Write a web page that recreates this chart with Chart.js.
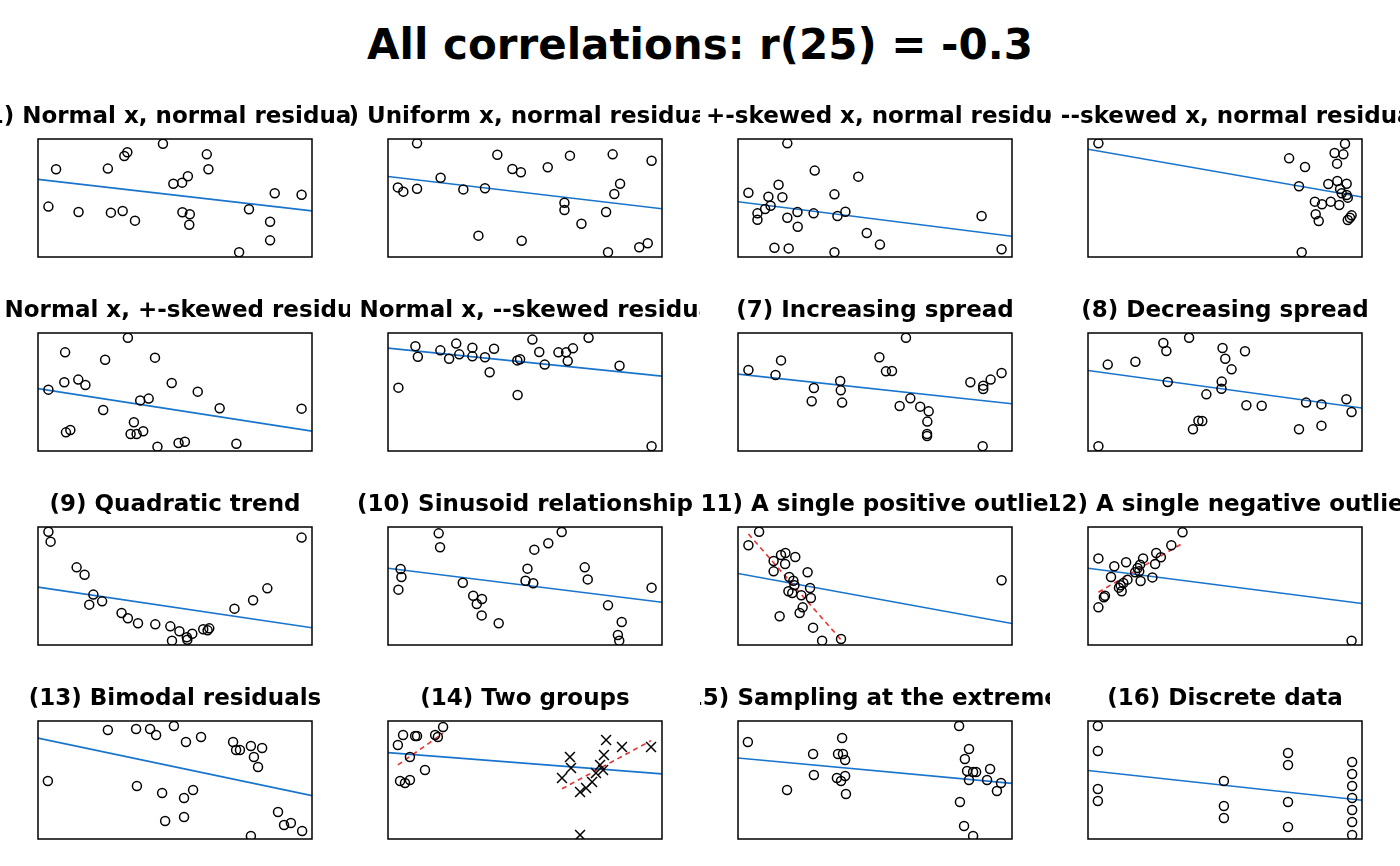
<!DOCTYPE html>
<html>
<head>
<meta charset="utf-8">
<script src="https://cdn.jsdelivr.net/npm/chart.js@4.4.1/dist/chart.umd.min.js"></script>
<style>
  body { margin: 0; background: #fff; width: 1400px; height: 866px; position: relative; overflow: hidden; }
  #main { position: absolute; left: 0; top: 20px; width: 1400px; text-align: center;
          font: bold 42px/50px "DejaVu Sans", sans-serif; color: #000; }
  canvas { position: absolute; }
</style>
</head>
<body>
<div id="main">All correlations: r(25) = -0.3</div>
<script>
// Panel titles, in reading order
const panelTitles = [
  "(1) Normal x, normal residuals", "(2) Uniform x, normal residuals",
  "(3) +-skewed x, normal residuals", "(4) --skewed x, normal residuals",
  "(5) Normal x, +-skewed residuals", "(6) Normal x, --skewed residuals",
  "(7) Increasing spread", "(8) Decreasing spread",
  "(9) Quadratic trend", "(10) Sinusoid relationship",
  "(11) A single positive outlier", "(12) A single negative outlier",
  "(13) Bimodal residuals", "(14) Two groups",
  "(15) Sampling at the extremes", "(16) Discrete data"
];

// Points, [x, y] on a 0-100 scale
const p1 = [[6.6,74.3],[25.5,74.9],[31.5,85.6],[32.6,88.7],[45.6,96.0],[61.6,87.0],[62.2,74.3],[49.4,62.1],[52.6,63.0],[54.7,68.4],[3.8,42.7],[14.8,38.1],[26.6,37.6],[30.9,39.0],[35.4,30.8],[52.7,37.9],[55.4,36.2],[55.2,27.4],[77.0,40.4],[86.4,54.0],[96.2,52.8],[84.7,29.9],[84.7,14.1],[73.4,4.0]];
const p2 = [[10.6,96.3],[39.9,86.7],[45.4,74.6],[48.5,71.8],[58.3,76.0],[66.4,85.9],[82.0,87.0],[96.2,81.6],[19.2,67.2],[3.6,59.0],[5.6,55.4],[10.6,57.9],[27.5,57.3],[35.4,58.2],[84.7,62.1],[82.6,53.4],[64.4,46.0],[64.4,39.8],[79.6,38.1],[70.6,28.2],[33.0,18.1],[48.8,13.8],[80.3,4.0],[91.7,8.2],[94.8,11.6]];
const p3 = [[18.0,96.3],[28.0,73.2],[43.9,68.1],[14.8,61.3],[3.8,54.5],[11.1,51.1],[16.2,50.6],[35.2,53.1],[11.9,43.5],[9.9,40.7],[7.1,37.0],[7.1,31.6],[21.7,38.1],[27.6,37.0],[18.0,33.3],[36.3,34.7],[39.2,38.4],[21.8,25.7],[47.0,20.3],[51.8,10.5],[13.3,7.9],[18.5,7.3],[35.2,4.0],[88.9,34.7],[96.2,6.5]];
const p4 = [[3.8,96.3],[73.4,83.6],[79.2,76.3],[77.0,59.9],[90.0,88.1],[93.2,87.0],[93.8,96.0],[90.9,79.1],[87.7,61.9],[91.0,64.4],[94.4,62.1],[92.0,57.6],[92.6,54.0],[94.4,52.5],[94.8,50.3],[82.8,46.9],[85.4,44.6],[88.6,46.9],[91.7,44.1],[83.1,36.2],[84.2,30.5],[94.8,31.4],[96.2,35.3],[95.6,33.3],[78.0,4.0]];
const p5 = [[32.8,96.0],[9.9,83.6],[24.5,77.4],[42.7,79.1],[9.6,58.2],[14.7,60.5],[17.3,55.9],[48.8,57.6],[58.3,50.3],[3.8,52.0],[37.3,42.9],[40.4,44.4],[23.8,34.7],[66.3,36.2],[96.2,35.9],[35.0,24.3],[10.2,15.8],[11.8,17.8],[33.8,14.4],[36.0,14.4],[38.4,16.7],[43.6,3.7],[51.3,6.8],[53.6,7.9],[72.4,6.2]];
const p6 = [[10.0,88.7],[10.9,79.9],[19.1,85.3],[24.9,91.0],[22.3,78.2],[26.0,81.9],[30.8,87.6],[30.8,80.2],[35.4,79.4],[38.7,86.7],[37.1,66.7],[52.7,94.4],[55.2,83.9],[47.2,76.8],[48.2,77.7],[57.2,73.2],[62.2,83.6],[65.0,83.6],[65.6,76.3],[67.5,87.0],[73.2,96.0],[84.5,72.3],[3.8,53.7],[47.3,47.5],[96.2,4.0]];
const p7 = [[3.8,68.6],[15.7,76.8],[13.7,64.4],[27.7,53.4],[26.9,42.1],[37.3,59.3],[37.5,51.4],[38.0,41.0],[51.6,79.4],[54.0,67.5],[56.2,67.8],[61.3,96.0],[59.0,38.1],[62.9,44.6],[66.5,37.6],[69.6,33.6],[69.1,24.9],[69.0,14.4],[69.0,12.7],[84.8,58.2],[89.5,55.4],[89.5,52.5],[92.2,60.5],[96.2,66.1],[89.3,4.0]];
const p8 = [[7.2,73.2],[17.3,75.7],[27.5,91.5],[28.6,84.7],[36.9,96.0],[49.1,87.3],[50.1,78.2],[52.4,69.2],[57.3,84.5],[29.1,58.5],[48.8,58.8],[48.7,52.8],[43.2,48.0],[57.8,38.7],[63.4,38.4],[79.6,41.0],[85.2,39.5],[94.3,43.8],[96.2,33.1],[40.3,25.7],[41.7,25.4],[38.3,18.4],[77.0,18.4],[85.2,21.5],[3.8,4.0]];
const p9 = [[3.8,96.0],[4.6,87.6],[14.1,65.8],[17.0,59.6],[20.2,42.7],[18.7,34.2],[23.4,37.0],[30.5,27.1],[32.8,22.6],[36.5,18.4],[42.8,17.5],[48.3,15.8],[51.6,11.6],[48.9,3.7],[54.3,6.5],[54.5,4.5],[56.3,9.6],[60.3,13.3],[61.9,12.4],[62.5,14.1],[71.7,30.8],[78.5,37.9],[83.7,48.0],[96.2,91.0]];
const p10 = [[18.5,94.6],[19.0,82.8],[4.6,64.4],[4.9,57.6],[3.8,46.9],[27.3,52.8],[31.1,41.8],[34.3,39.0],[32.4,34.7],[34.2,25.1],[40.4,18.4],[50.9,64.7],[50.2,54.5],[53.0,52.3],[53.4,80.8],[58.5,86.2],[63.4,95.8],[71.8,65.8],[72.9,55.6],[96.2,48.6],[80.3,33.6],[85.3,19.5],[83.9,8.5],[84.4,3.7]];
// last point of p11 / p12 is the outlier
const p11 = [[7.7,96.0],[3.8,84.5],[13.0,71.2],[15.7,76.3],[17.3,78.0],[17.2,68.6],[20.9,74.6],[13.0,62.4],[25.4,61.6],[18.7,57.6],[20.2,54.5],[20.6,50.6],[26.3,48.3],[18.4,45.5],[19.8,44.1],[23.1,42.1],[26.6,39.8],[23.6,31.9],[22.5,27.1],[15.2,24.3],[27.4,14.7],[30.7,3.7],[37.6,5.1],[96.2,54.8]];
const p12 = [[34.5,95.5],[30.4,84.5],[24.9,78.0],[26.6,74.3],[20.1,73.4],[13.9,70.1],[9.6,66.7],[3.8,73.4],[24.5,68.6],[19.0,68.1],[18.1,65.3],[18.7,62.4],[17.2,61.6],[8.4,57.6],[14.4,55.4],[12.9,52.5],[11.3,48.6],[12.3,45.5],[19.2,54.2],[23.5,57.3],[6.2,41.8],[5.8,40.4],[3.8,31.9],[11.9,50.6],[96.2,3.7]];
const p13 = [[3.6,49.2],[25.5,92.4],[35.8,93.2],[40.9,93.2],[43.1,88.1],[49.6,95.8],[54.0,82.2],[59.5,86.4],[71.2,82.2],[72.3,75.4],[73.7,75.4],[77.7,78.8],[81.8,77.1],[78.8,69.5],[80.3,61.0],[36.1,44.9],[45.3,39.0],[53.3,34.7],[56.6,41.5],[46.4,15.3],[53.3,18.6],[87.6,22.9],[89.8,11.9],[92.3,13.6],[96.4,6.8],[77.7,2.5]];
const p14a = [[3.6,79.7],[5.5,88.1],[9.9,87.3],[10.6,87.3],[8.0,69.5],[13.5,58.5],[4.4,49.2],[6.2,47.5],[8.0,50.0],[17.2,88.1],[18.2,86.4],[20.1,94.9]];
const p14b = [[63.5,51.7],[66.4,69.5],[66.8,60.2],[70.1,39.8],[72.3,43.2],[74.5,48.3],[75.9,55.9],[78.5,58.5],[77.4,62.7],[78.8,71.2],[79.6,83.9],[85.4,78.0],[96.0,78.0],[70.1,3.4]];
const p15 = [[3.6,82.2],[17.9,41.5],[27.4,72.0],[27.7,54.2],[36.5,72.0],[38.3,72.0],[39.1,66.9],[36.1,51.7],[37.6,49.2],[39.1,53.4],[38.0,85.6],[39.4,38.1],[80.7,95.8],[84.3,76.3],[82.8,67.8],[83.6,57.6],[85.8,56.8],[86.9,56.8],[84.3,50.0],[92.0,59.3],[90.9,50.0],[96.0,47.5],[94.5,40.7],[81.0,31.4],[82.5,11.0],[85.8,2.5]];
const p16 = [[3.6,95.8],[3.6,74.6],[3.6,42.4],[3.6,32.2],[49.6,49.2],[49.6,28.0],[49.6,17.8],[73.0,72.9],[73.0,62.7],[73.0,31.4],[73.0,10.2],[96.4,65.3],[96.4,55.1],[96.4,44.9],[96.4,34.7],[96.4,24.6],[96.4,14.4],[96.4,3.4]];

const BLUE = "#1874CD";
const RED = "#e8302f";

// least-squares line through pts, evaluated at x0 and x1
function fitLine(pts, x0, x1) {
  const n = pts.length;
  const mx = pts.reduce((s, p) => s + p[0], 0) / n;
  const my = pts.reduce((s, p) => s + p[1], 0) / n;
  let sxy = 0, sxx = 0;
  pts.forEach(p => { sxy += (p[0] - mx) * (p[1] - my); sxx += (p[0] - mx) ** 2; });
  const b = sxy / sxx, a = my - b * mx;
  return [{ x: x0, y: a + b * x0 }, { x: x1, y: a + b * x1 }];
}

const toXY = pts => pts.map(p => ({ x: p[0], y: p[1] }));

function scatterSet(pts, style) {
  return {
    type: "scatter", data: toXY(pts),
    pointStyle: style || "circle",
    pointRadius: style === "crossRot" ? 7 : 4.5,
    borderColor: "#000", backgroundColor: "rgba(0,0,0,0)",
    pointBorderWidth: 1.5, pointHoverRadius: 4.5
  };
}

function lineSet(data, color, dashed) {
  return {
    type: "line", data, borderColor: color, borderWidth: 1.6,
    borderDash: dashed ? [5, 4] : [], pointRadius: 0, fill: false, tension: 0
  };
}

// red dashed fit over the x range of a subset
function subsetFit(pts) {
  const xs = pts.map(p => p[0]);
  return lineSet(fitLine(pts, Math.min(...xs), Math.max(...xs)), RED, true);
}

// panel title + frame
const panelDeco = {
  id: "panelDeco",
  afterDatasetsDraw(chart) {
    const { ctx, chartArea: a } = chart;
    ctx.save();
    ctx.strokeStyle = "#000";
    ctx.lineWidth = 1.5;
    ctx.strokeRect(a.left, a.top, a.right - a.left, a.bottom - a.top);
    ctx.restore();
  },
  afterDraw(chart) {
    const ctx = chart.ctx;
    ctx.save();
    ctx.font = "bold 23px 'DejaVu Sans'";
    ctx.fillStyle = "#000";
    ctx.textAlign = "center";
    ctx.textBaseline = "middle";
    ctx.fillText(chart.options.plugins.panelDeco.title, (chart.chartArea.left + chart.chartArea.right) / 2, 27);
    ctx.restore();
  }
};

const allPanels = [p1, p2, p3, p4, p5, p6, p7, p8, p9, p10, p11, p12, p13, p14a.concat(p14b), p15, p16];

allPanels.forEach((pts, i) => {
  const canvas = document.createElement("canvas");
  canvas.width = 350;
  canvas.height = 194;
  canvas.style.left = (i % 4) * 350 + "px";
  canvas.style.top = 90 + Math.floor(i / 4) * 194 + "px";
  document.body.appendChild(canvas);

  let datasets;
  if (i === 13) {
    datasets = [scatterSet(p14a), scatterSet(p14b, "crossRot"), subsetFit(p14a), subsetFit(p14b)];
  } else {
    datasets = [scatterSet(pts)];
  }
  if (i === 10 || i === 11) datasets.push(subsetFit(pts.slice(0, -1)));
  datasets.push(lineSet(fitLine(pts, 0, 100), BLUE, false));

  new Chart(canvas, {
    type: "scatter",
    data: { datasets },
    options: {
      responsive: false,
      animation: false,
      events: [],
      layout: { padding: { left: 38, right: 38, top: 49, bottom: 27 } },
      scales: {
        x: { type: "linear", min: 0, max: 100, display: false },
        y: { type: "linear", min: 0, max: 100, display: false }
      },
      plugins: {
        legend: { display: false },
        tooltip: { enabled: false },
        panelDeco: { title: panelTitles[i] }
      }
    },
    plugins: [panelDeco]
  });
});
</script>
</body>
</html>
